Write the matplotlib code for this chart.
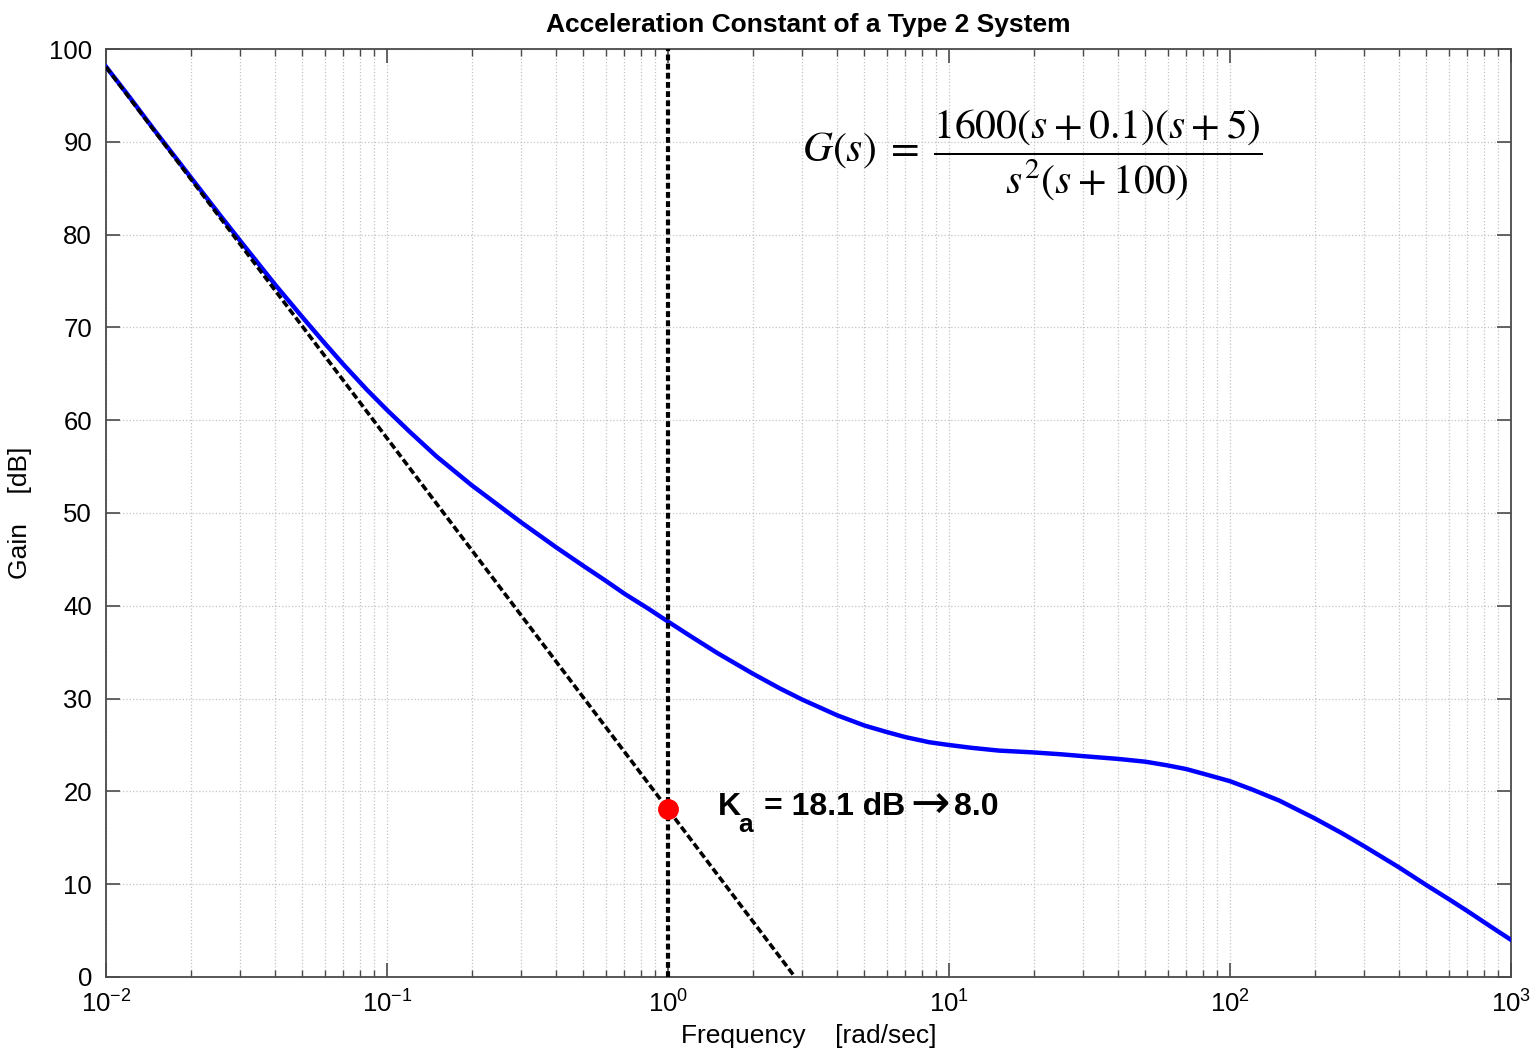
import numpy as np
import matplotlib
matplotlib.use("Agg")
import matplotlib.pyplot as plt
from matplotlib.ticker import LogLocator, FixedLocator, FixedFormatter, NullFormatter

plt.rcParams["font.family"] = ["Liberation Sans", "DejaVu Sans"]
plt.rcParams["mathtext.fontset"] = "custom"
plt.rcParams["mathtext.rm"] = "Liberation Sans"
plt.rcParams["mathtext.it"] = "Liberation Sans:italic"
plt.rcParams["mathtext.bf"] = "Liberation Sans:bold"

# Bode magnitude
freq = [0.01, 0.012, 0.015, 0.02, 0.025, 0.03, 0.04, 0.05, 0.06, 0.07, 0.085,
        0.1, 0.12, 0.15, 0.2, 0.25, 0.3, 0.4, 0.5, 0.6, 0.7, 0.85,
        1.0, 1.2, 1.5, 2.0, 2.5, 3.0, 4.0, 5.0, 6.0, 7.0, 8.5,
        10, 12, 15, 20, 25, 30, 40, 50, 60, 70, 85,
        100, 120, 150, 200, 250, 300, 400, 500, 600, 700, 850, 1000]
gain_db = [98.1, 95.0, 91.1, 86.2, 82.4, 79.35, 74.6, 71.1, 68.3, 66.0, 63.25,
           61.1, 58.8, 56.1, 53.0, 50.8, 49.0, 46.3, 44.3, 42.7, 41.3, 39.7,
           38.3, 36.75, 34.9, 32.7, 31.1, 29.9, 28.2, 27.1, 26.4, 25.85, 25.3,
           25.0, 24.7, 24.4, 24.2, 24.0, 23.8, 23.5, 23.2, 22.8, 22.4, 21.7,
           21.1, 20.2, 19.0, 17.1, 15.5, 14.1, 11.8, 9.9, 8.4, 7.1, 5.4, 4.0]

# -40 dB/dec asymptote through Ka
asym_freq = [0.01, 2.83]
asym_db = [98.06, 0.0]

ka_freq = 1.0
ka_db = 18.06

decades = [1e-2, 1e-1, 1e0, 1e1, 1e2, 1e3]
decade_labels = [r"$10^{-2}$", r"$10^{-1}$", r"$10^{0}$", r"$10^{1}$", r"$10^{2}$", r"$10^{3}$"]

fig = plt.figure(figsize=(15.39, 10.59), dpi=100)
ax = fig.add_axes([106 / 1539, 1 - 977 / 1059, (1511 - 106) / 1539, (977 - 49) / 1059])

ax.semilogx(freq, gain_db, color="#0000ff", lw=3.2, zorder=3)
ax.plot(asym_freq, asym_db, color="black", lw=2.6, ls=(0, (2.0, 0.9)), zorder=4)
ax.plot([ka_freq, ka_freq], [0, 100], color="black", lw=3.0, ls=(0, (1.4, 0.8)), zorder=4)
ax.plot([ka_freq], [ka_db], "o", color="#ff0000", ms=14, zorder=5)

ax.set_xlim(1e-2, 1e3)
ax.set_ylim(0, 100)
ax.set_yticks(np.arange(0, 101, 10))
ax.xaxis.set_major_locator(FixedLocator(decades))
ax.xaxis.set_major_formatter(FixedFormatter(decade_labels))
ax.xaxis.set_minor_locator(LogLocator(base=10, subs=np.arange(2, 10), numticks=20))
ax.xaxis.set_minor_formatter(NullFormatter())

ax.grid(True, which="major", color="#c4c4c4", ls=":", lw=0.9)
ax.grid(True, which="minor", axis="x", color="#c4c4c4", ls=":", lw=0.9)

for s in ax.spines.values():
    s.set_color("#4a4a4a")
    s.set_linewidth(1.3)
ax.tick_params(which="both", direction="in", top=True, right=True, color="#4a4a4a",
               labelsize=18.5, labelcolor="black")
ax.tick_params(which="major", length=10, width=1.2, pad=10)
ax.tick_params(which="minor", length=5, width=1.0)

ax.set_title("Acceleration Constant of a Type 2 System", fontsize=19, fontweight="bold", pad=12)
ax.set_xlabel("Frequency    [rad/sec]", fontsize=19, labelpad=4)
ax.set_ylabel("Gain    [dB]", fontsize=19, labelpad=12)

# Ka label: K, lowered subscript a, text, arrow from DejaVu Sans, value
ka_fs = 23
t_k = ax.text(1.5, 17.5, "K", fontsize=ka_fs, fontweight="bold", va="baseline", ha="left", zorder=6)
t_a = ax.annotate("a", xy=(1, 0), xycoords=t_k, xytext=(-2, -15), textcoords="offset pixels",
                  fontsize=19, fontweight="bold", va="bottom", ha="left", zorder=6)
t_eq = ax.annotate("= 18.1 dB", xy=(1, 0), xycoords=(t_a, t_k), xytext=(11, 0),
                   textcoords="offset pixels", fontsize=ka_fs, fontweight="bold",
                   va="bottom", ha="left", zorder=6)
t_ar = ax.annotate("\u2192", xy=(1, 0), xycoords=t_eq, xytext=(5, 4), textcoords="offset pixels",
                   fontsize=34, family="DejaVu Sans", va="baseline", ha="left", zorder=6)
ax.annotate("8.0", xy=(1, 0), xycoords=(t_ar, t_eq), xytext=(4, 0), textcoords="offset pixels",
            fontsize=ka_fs, fontweight="bold", va="bottom", ha="left", zorder=6)

ax.text(3.0, 88.6,
        r"$G(s)\;=\;\dfrac{1600(s\:+\:0.1)(s\:+\:5)}{s^2(s\:+\:100)}$",
        fontsize=30, math_fontfamily="stix", va="center", ha="left", zorder=6)

fig.savefig("out.png", dpi=100)
